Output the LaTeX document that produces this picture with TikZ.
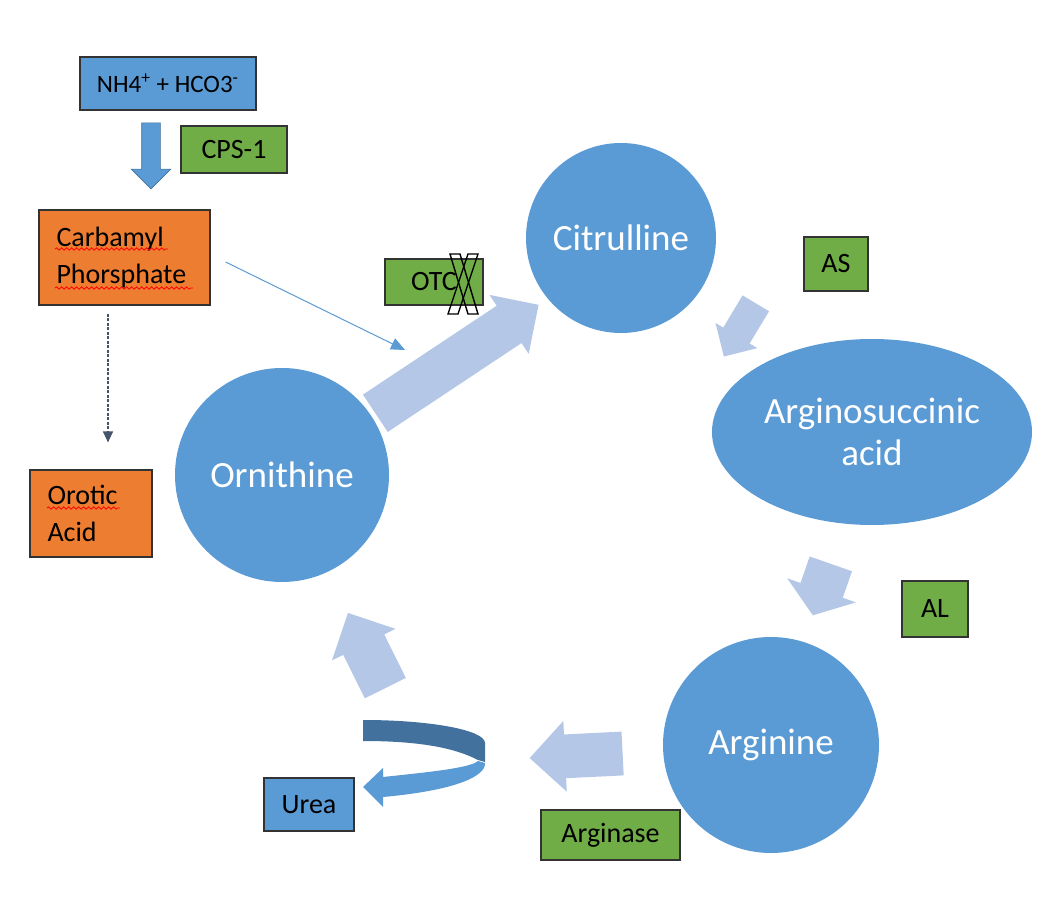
\documentclass[tikz,border=0pt]{standalone}
\usepackage{fontspec}
\setmainfont{Carlito}
\usetikzlibrary{shapes.geometric, shapes.arrows, arrows.meta, decorations.pathmorphing, positioning}

\definecolor{cycblue}{HTML}{5B9BD5}
\definecolor{palblue}{HTML}{B4C7E7}
\definecolor{darkblue}{HTML}{41719C}
\definecolor{enzgreen}{HTML}{70AD47}
\definecolor{prodorange}{HTML}{ED7D31}
\definecolor{slate}{HTML}{44546A}

\tikzset{
  box/.style={draw=black!80, line width=0.6pt, inner sep=0pt, font=\fontsize{14}{18.5}\selectfont},
  enzyme/.style={box, fill=enzgreen},
  product/.style={box, fill=prodorange, align=left, inner xsep=8.75pt},
  metab/.style={circle, fill=cycblue, text=white, inner sep=0pt, font=\fontsize{18.5}{21}\selectfont},
  flow/.style={single arrow, fill=palblue, inner xsep=0pt, anchor=tail},
  spell/.style={red, line width=0.4pt, decorate, decoration={snake, amplitude=0.6pt, segment length=2.5pt}},
}

\begin{document}
\begin{tikzpicture}[x=0.5pt, y=-0.5pt]
\fill[white] (0,0) rectangle (1056,903);
\useasboundingbox (0,0) rectangle (1056,903);

% start of the cycle
\node[box, fill=cycblue, minimum width=88pt, minimum height=26.5pt, font=\fontsize{12.5}{14}\selectfont] (nh4) at (168,83.5) {NH4\textsuperscript{+} + HCO3\textsuperscript{-}};
\node[enzyme, minimum width=53pt, minimum height=23.5pt] (cps) at (234,149.5) {CPS-1};
\node[product, text width=68pt, minimum height=47.5pt] (carb) at (124.5,257.5) {Carbamyl\\Phorsphate};
\node[product, text width=43.5pt, minimum height=43.5pt] (orot) at (91,513.5) {Orotic\\Acid};
\node[flow, fill=cycblue, draw=darkblue, line width=0.3pt, rotate=-90, minimum height=33pt, inner ysep=4.5pt, single arrow head extend=5.25pt] (fix) at ([xshift=-8.5pt,yshift=-6pt]nh4.south) {};

% metabolites
\node[metab, minimum size=107pt] (orn) at (282,475) {Ornithine};
\node[metab, minimum size=95pt] (cit) at (621,238) {Citrulline};
\node[metab, ellipse, minimum width=160pt, minimum height=93pt, align=center] (asa) at (872,432) {Arginosuccinic\\acid};
\node[metab, minimum size=108pt] (arg) at (771,745) {Arginine};

% enzymes
\node[enzyme, minimum width=49pt, minimum height=23pt] (otc) at (434,282) {OTC\hspace{9pt}};
\node[enzyme, minimum width=32pt, minimum height=27pt] (as) at (836,264) {AS};
\node[enzyme, minimum width=33pt, minimum height=28pt] (al) at (935,609) {AL};
\node[enzyme, minimum width=69.5pt, minimum height=25pt] (ase) at (610.5,835) {Arginase};
\node[box, fill=cycblue, minimum width=45pt, minimum height=26.5pt] (urea) at (309,804.5) {Urea};

% steps of the cycle
\node[flow, rotate=33.6, minimum height=98pt, inner ysep=11pt, single arrow head extend=6.5pt] (toCit) at (375,413.5) {};
\node[flow, rotate=-121, minimum height=31pt, inner ysep=7.5pt, single arrow head extend=4.5pt] (toAsa) at (756,303) {};
\node[flow, rotate=-109.3, minimum height=27.25pt, inner ysep=11pt, single arrow head extend=7pt, single arrow tip angle=108] (toArg) at (831,563.5) {};
\node[flow, rotate=182.8, minimum height=46.5pt, inner ysep=10.75pt, single arrow head extend=6.75pt] (toUrea) at (623,753.5) {};
\node[flow, rotate=116.4, minimum height=42pt, inner ysep=11.25pt, single arrow head extend=6.25pt] (toOrn) at (385.5,688.5) {};

% urea leaves
\fill[darkblue] (363,720) .. controls (430,720) and (485,730) .. (485,743) -- (485,762) -- (478,760) .. controls (455,748) and (420,741) .. (363,741) -- cycle;
\fill[cycblue] (478,761) -- (485,763) .. controls (486,775) and (460,790) .. (383,797) -- (383,807) -- (363,787) -- (383,768) -- (383,777) .. controls (430,772) and (470,768) .. (478,761) -- cycle;

% OTC blocked
\draw[line width=0.7pt] (450,254) -- (460,254) -- (478,314) -- (468,314) -- cycle;
\draw[line width=0.7pt] (468,254) -- (478,254) -- (458,314) -- (448,314) -- cycle;

% side paths
\coordinate (ornin) at (405,350);
\coordinate (orotin) at ([shift={(17,-27)}]orot.north);
\draw[cycblue, line width=0.5pt, -{Triangle[length=7pt,width=6pt]}] ([shift={(15,4.5)}]carb.east) -- (ornin);
\draw[slate, line width=0.7pt, dash pattern=on 1.5pt off 0.75pt, -{Triangle[length=5.5pt,width=5pt]}] ([shift={(-16.5,8)}]carb.south) -- (orotin);

% spell check marks
\draw[spell] (55,249) -- (168,249);
\draw[spell] (55,288) -- (193,288);
\draw[spell] (47,508) -- (120,508);
\end{tikzpicture}
\end{document}
